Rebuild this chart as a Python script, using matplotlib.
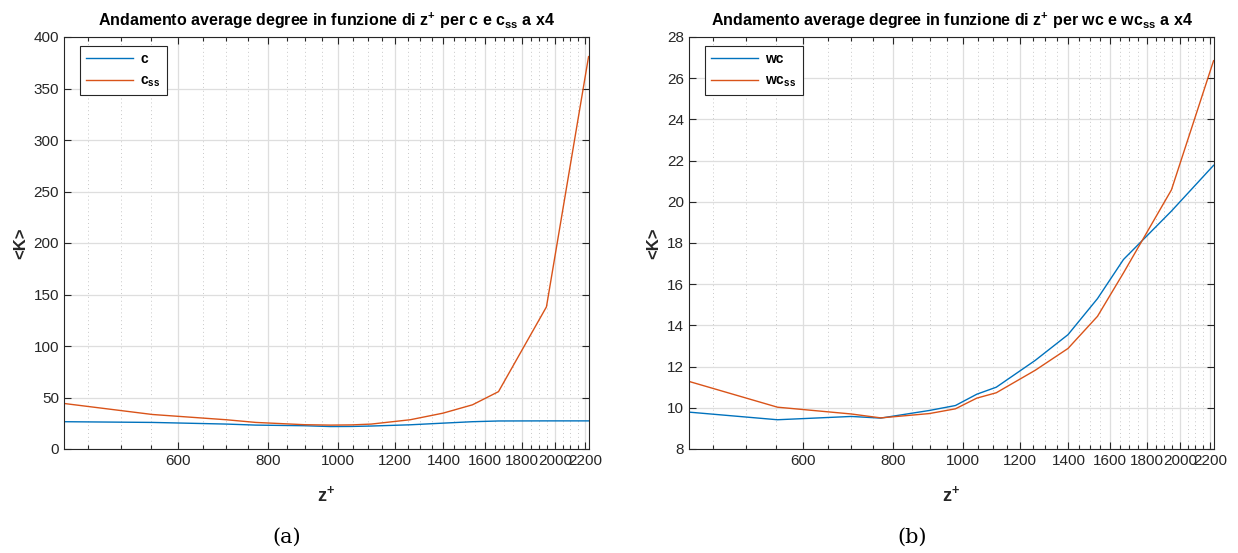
import numpy as np
import matplotlib
matplotlib.use('Agg')
import matplotlib.pyplot as plt
from matplotlib.ticker import FixedLocator, NullFormatter, FixedFormatter

plt.rcParams['font.family'] = ['Liberation Sans', 'DejaVu Sans']
plt.rcParams['mathtext.fontset'] = 'custom'
plt.rcParams['mathtext.rm'] = 'Liberation Sans'
plt.rcParams['mathtext.bf'] = 'Liberation Sans:bold'
plt.rcParams['mathtext.it'] = 'Liberation Sans:italic'

# z+ positions (log axis)
z_plus = [417, 553, 700, 769, 898, 976, 1045, 1112, 1259, 1398, 1536, 1669, 1945, 2225]

# panel (a): average degree for c and c_ss
k_c = [26.5, 25.8, 24.2, 23.2, 22.6, 21.8, 21.9, 22.3, 23.5, 25.1, 26.5, 27.2, 27.3, 27.3]
k_css = [44.2, 33.5, 28.4, 25.8, 23.6, 23.2, 23.4, 24.2, 28.4, 34.8, 42.9, 55.7, 138.0, 381.0]

# panel (b): average degree for wc and wc_ss
k_wc = [9.79, 9.42, 9.58, 9.50, 9.87, 10.11, 10.66, 11.00, 12.30, 13.55, 15.30, 17.20, 19.55, 21.77]
k_wcss = [11.28, 10.03, 9.70, 9.51, 9.72, 9.95, 10.47, 10.73, 11.82, 12.88, 14.44, 16.55, 20.58, 26.85]

x_major = [600, 800, 1000, 1200, 1400, 1600, 1800, 2000, 2200]
x_minor = [v for v in range(450, 2201, 50) if v not in x_major]

blue = '#0072BD'
orange = '#D95319'
axcol = '#262626'


def style_axes(ax, ylim, yticks):
    ax.set_xscale('log')
    ax.set_xlim(417, 2228)
    ax.set_ylim(*ylim)
    ax.xaxis.set_major_locator(FixedLocator(x_major))
    ax.xaxis.set_major_formatter(FixedFormatter([str(v) for v in x_major]))
    ax.xaxis.set_minor_locator(FixedLocator(x_minor))
    ax.xaxis.set_minor_formatter(NullFormatter())
    ax.set_yticks(yticks)
    ax.tick_params(which='both', direction='in', top=True, right=True,
                   colors=axcol, labelsize=11, width=0.8)
    ax.tick_params(which='major', length=5)
    ax.tick_params(which='minor', length=3)
    ax.grid(True, which='major', color='#dedede', linewidth=0.9)
    ax.grid(True, which='minor', axis='x', color='#c8c8c8', linestyle=(0, (1, 3)), linewidth=0.7)
    ax.set_axisbelow(True)
    for s in ax.spines.values():
        s.set_color(axcol)
        s.set_linewidth(0.8)
    ax.set_xlabel(r'$\mathbf{z^{+}}$', fontsize=13, color=axcol, labelpad=12)
    ax.set_ylabel('<K>', fontsize=12, fontweight='bold', color=axcol, labelpad=4)


fig = plt.figure(figsize=(12.38, 5.53), dpi=100)
ax1 = fig.add_axes([64 / 1238, 1 - 449 / 553, 525 / 1238, 412 / 553])
ax2 = fig.add_axes([689 / 1238, 1 - 449 / 553, 525 / 1238, 412 / 553])

ax1.plot(z_plus, k_c, color=blue, linewidth=1.0, label='c')
ax1.plot(z_plus, k_css, color=orange, linewidth=1.0, label=r'c$_{\mathbf{ss}}$')
style_axes(ax1, (0, 400), np.arange(0, 401, 50))
ax1.set_title(r'Andamento average degree in funzione di $\mathbf{z^{+}}$ per c e c$_{\mathbf{ss}}$ a x4',
              fontsize=11.5, fontweight='bold', color='black', pad=8)

ax2.plot(z_plus, k_wc, color=blue, linewidth=1.0, label='wc')
ax2.plot(z_plus, k_wcss, color=orange, linewidth=1.0, label=r'wc$_{\mathbf{ss}}$')
style_axes(ax2, (8, 28), np.arange(8, 29, 2))
ax2.set_title(r'Andamento average degree in funzione di $\mathbf{z^{+}}$ per wc e wc$_{\mathbf{ss}}$ a x4',
              fontsize=11.5, fontweight='bold', color='black', pad=8)

for ax in (ax1, ax2):
    leg = ax.legend(loc='upper left', bbox_to_anchor=(0.025, 0.985), fancybox=False,
                    edgecolor=axcol, framealpha=1, handlelength=3.4, handletextpad=0.5,
                    borderpad=0.45, labelspacing=0.55, borderaxespad=0.2,
                    prop={'weight': 'bold', 'size': 10})
    leg.get_frame().set_linewidth(0.8)

fig.text(287 / 1238, 1 - 537 / 553, '(a)', fontsize=15, family='DejaVu Serif', ha='center', va='center')
fig.text(912 / 1238, 1 - 537 / 553, '(b)', fontsize=15, family='DejaVu Serif', ha='center', va='center')

fig.savefig('out.png', dpi=100)
